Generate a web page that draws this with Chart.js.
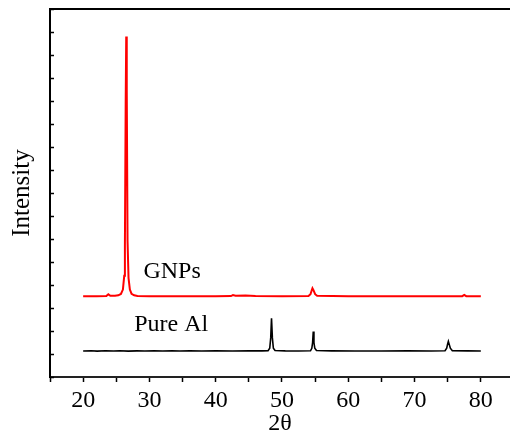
<!DOCTYPE html>
<html>
<head>
<meta charset="utf-8">
<script src="https://cdn.jsdelivr.net/npm/chart.js@4"></script>
<style>
html, body { margin: 0; padding: 0; background: #fff; }
#wrap { width: 510px; height: 439px; }
</style>
</head>
<body>
<div id="wrap"><canvas id="graficoXRD" width="510" height="439"></canvas></div>
<script>
// Difratogramas: 2θ (graus) e intensidade (u.a.)
const alTheta = [20, 21.2, 22.1, 23.4, 24.6, 25.5, 26.8, 28.1, 29.3, 30.7, 32.0, 33.4, 34.6, 36.1, 37.9, 40.0, 42.5, 45.0, 47.0, 47.9, 48.15, 48.3, 48.42, 48.55, 48.7, 48.95, 50.5, 52.5, 54.3, 54.5, 54.62, 54.72, 54.82, 54.95, 55.2, 57.5, 61.0, 65.0, 69.0, 72.5, 74.6, 74.85, 75.0, 75.1, 75.2, 75.4, 75.7, 78.0, 80];
const alInt = [1130, 1140, 1125, 1140, 1128, 1142, 1126, 1138, 1128, 1140, 1130, 1138, 1128, 1136, 1130, 1136, 1132, 1136, 1134, 1140, 1250, 1700, 2550, 1700, 1250, 1150, 1135, 1132, 1140, 1250, 1500, 1980, 1500, 1250, 1150, 1135, 1132, 1132, 1135, 1132, 1140, 1250, 1450, 1550, 1450, 1250, 1140, 1135, 1132];

const gnpTheta = [20, 22.0, 23.5, 23.8, 24.1, 24.8, 25.3, 25.7, 26.0, 26.2, 26.3, 26.42, 26.5, 26.58, 26.7, 26.85, 27.05, 27.3, 27.7, 28.2, 30.0, 35.0, 40.0, 42.3, 42.6, 43.0, 44.5, 46.0, 50.0, 54.0, 54.3, 54.5, 54.6, 54.75, 55.0, 55.3, 60.0, 65.0, 70.0, 77.2, 77.5, 77.8, 80];
const gnpInt = [3510, 3515, 3520, 3600, 3530, 3530, 3550, 3610, 3800, 4400, 5700, 12000, 14800, 12500, 5900, 4300, 3800, 3620, 3550, 3525, 3515, 3510, 3510, 3520, 3560, 3530, 3545, 3520, 3510, 3520, 3600, 3780, 3860, 3780, 3600, 3530, 3510, 3510, 3510, 3515, 3570, 3515, 3510];

// marcas do eixo 2θ
const majorTicks = [20, 30, 40, 50, 60, 70, 80];
const minorTicks = [15, 25, 35, 45, 55, 65, 75];

const seriesNames = ['Pure Al', 'GNPs'];
const seriesColors = ['#000000', '#ff0000'];
// âncora dos rótulos (2θ, intensidade)
const labelTheta = [27.7, 29.1];
const labelInt = [1980, 4290];

const serif = '"Liberation Serif", "Times New Roman", serif';

const toPoints = (xs, ys) => xs.map((v, i) => ({ x: v, y: ys[i] }));

// rótulos das curvas e marcas internas do eixo y
const extras = {
    id: 'extras',
    afterDraw(chart) {
        const { ctx, chartArea, scales: { x, y } } = chart;
        ctx.save();
        ctx.strokeStyle = '#000';
        ctx.lineWidth = 1.5;
        y.ticks.forEach(t => {
            const py = Math.round(y.getPixelForValue(t.value)) + 0.5;
            ctx.beginPath();
            ctx.moveTo(chartArea.left, py);
            ctx.lineTo(chartArea.left + 4, py);
            ctx.stroke();
        });
        ctx.font = '24px ' + serif;
        ctx.fillStyle = '#000';
        ctx.textBaseline = 'alphabetic';
        seriesNames.forEach((nome, i) => {
            ctx.fillText(nome, x.getPixelForValue(labelTheta[i]), y.getPixelForValue(labelInt[i]));
        });
        ctx.restore();
    }
};

const ctx = document.getElementById('graficoXRD').getContext('2d');
const graficoXRD = new Chart(ctx, {
    type: 'line',
    data: {
        datasets: [{
            label: seriesNames[0],
            data: toPoints(alTheta, alInt),
            borderColor: seriesColors[0],
            borderWidth: 1.6,
            pointRadius: 0,
            tension: 0
        }, {
            label: seriesNames[1],
            data: toPoints(gnpTheta, gnpInt),
            borderColor: seriesColors[1],
            borderWidth: 2,
            pointRadius: 0,
            tension: 0
        }]
    },
    options: {
        responsive: false,
        animation: false,
        layout: { padding: { top: 9, right: 0, left: 0, bottom: 0 } },
        plugins: {
            legend: { display: false },
            tooltip: { enabled: false }
        },
        scales: {
            x: {
                type: 'linear',
                position: 'bottom',
                min: 15,
                max: 84.4,
                afterFit: scale => { scale.height = 62; },
                afterBuildTicks: scale => {
                    scale.ticks = majorTicks.concat(minorTicks).sort((a, b) => a - b).map(v => ({ value: v }));
                },
                ticks: {
                    autoSkip: false,
                    maxRotation: 0,
                    color: '#000',
                    padding: 4,
                    font: { family: serif, size: 24 },
                    callback: v => (majorTicks.includes(v) ? v : '')
                },
                grid: {
                    drawOnChartArea: false,
                    tickLength: 5,
                    tickWidth: 1.5,
                    tickColor: '#000'
                },
                border: { color: '#222', width: 2 },
                title: {
                    display: true,
                    text: '2θ',
                    color: '#000',
                    font: { family: serif, size: 24, lineHeight: 1 },
                    padding: { top: 0, bottom: 3 }
                }
            },
            xTop: {
                type: 'linear',
                position: 'top',
                min: 15,
                max: 84.4,
                afterFit: scale => { scale.height = 0; },
                ticks: { display: false },
                grid: { drawOnChartArea: false, drawTicks: false, tickLength: 0 },
                border: { color: '#000', width: 2 }
            },
            y: {
                min: 0,
                max: 16000,
                afterFit: scale => { scale.width = 50; },
                ticks: { display: false, stepSize: 1000 },
                grid: { drawOnChartArea: false, drawTicks: false, tickLength: 0 },
                border: { color: '#000', width: 2 },
                title: {
                    display: true,
                    text: 'Intensity',
                    color: '#000',
                    font: { family: serif, size: 25, lineHeight: 1 },
                    padding: { top: 10, bottom: 0 }
                }
            }
        }
    },
    plugins: [extras]
});
</script>
</body>
</html>
